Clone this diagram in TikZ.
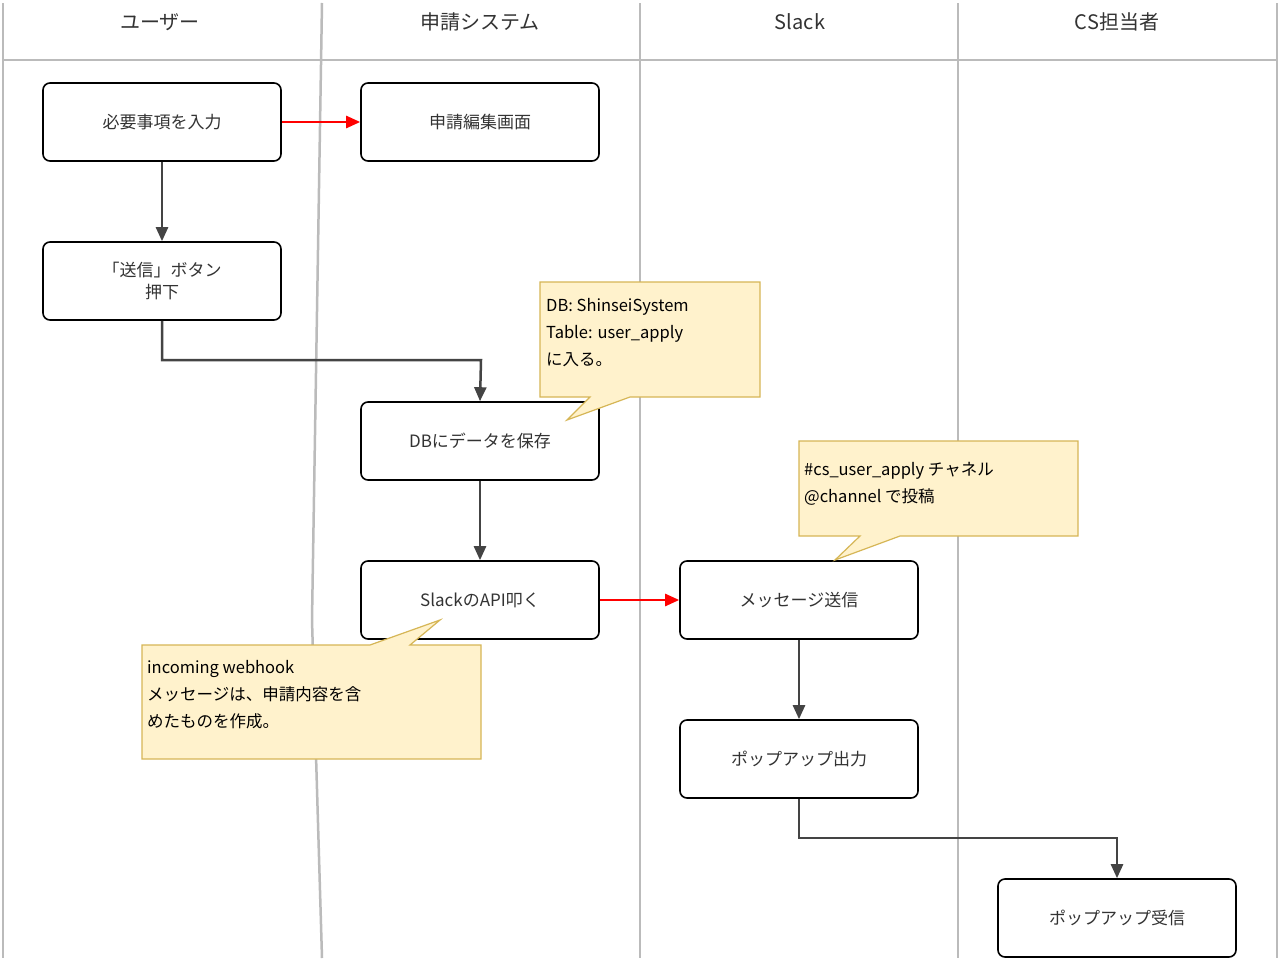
\documentclass[tikz,border=0pt]{standalone}
\usepackage{fontspec}
\setmainfont{Noto Sans CJK JP}
\usetikzlibrary{arrows.meta}
\definecolor{lane}{HTML}{BBBBBB}
\definecolor{notef}{HTML}{FFF2CC}
\definecolor{noted}{HTML}{D6B656}
\definecolor{txt}{HTML}{333333}
\definecolor{arr}{HTML}{444444}
\begin{document}
\begin{tikzpicture}[x=1pt,y=-1pt,
  box/.style={draw=black,line width=1.6pt,rounded corners=7pt,minimum width=238pt,minimum height=78pt,fill=white,text=txt,font=\fontsize{17}{22}\selectfont,align=center},
  lanel/.style={draw=lane,line width=2.5pt},
  hdr/.style={text=txt,font=\fontsize{20}{24}\selectfont},
  note/.style={fill=notef,draw=noted,line width=1.2pt},
  notet/.style={anchor=north west,align=left,font=\fontsize{16.5}{27}\selectfont,inner sep=0pt},
  a/.style={draw=arr,line width=2.5pt,-{Triangle[length=14pt,width=12pt]}},
  r/.style={draw=red,line width=2.5pt,-{Triangle[length=14pt,width=12pt]}}]
\useasboundingbox (0,0) rectangle (1280,961);
\fill[white] (0,0) rectangle (1280,961);
\draw[lanel] (3,3)--(3,958) (640,3)--(640,958) (958,3)--(958,958) (1277,3)--(1277,958);
\draw[lanel] (322,3)--(312,620)--(322,958);
\draw[lanel] (3,60)--(1277,60);
\node[hdr] (h1) at (160,22) {ユーザー};
\node[hdr] (h2) at (480,22) {申請システム};
\node[hdr] (h3) at (800,22) {Slack};
\node[hdr] (h4) at (1117,22) {CS担当者};
\node[box] (n1) at (162,122) {必要事項を入力};
\node[box] (n2) at (480,122) {申請編集画面};
\node[box] (n3) at (162,281) {「送信」ボタン\\押下};
\node[box] (n4) at (480,441) {DBにデータを保存};
\node[box] (n5) at (480,600) {SlackのAPI叩く};
\node[box] (n6) at (799,600) {メッセージ送信};
\node[box] (n7) at (799,759) {ポップアップ出力};
\node[box] (n8) at (1117,918) {ポップアップ受信};
\draw[r] (n1)--(n2);
\draw[r] (n5)--(n6);
\draw[a] (n1)--(n3);
\draw[a] (n3.south)|-(481,360)--(n4.north);
\draw[a] (n4)--(n5);
\draw[a] (n6)--(n7);
\draw[a] (n7.south)|-(1117,838)--(n8.north);
% notes
\draw[note] (540,282)--(760,282)--(760,397)--(630,397)--(567,420)--(590,397)--(540,397)--cycle;
\node[notet] (t1) at (546,298) {DB: ShinseiSystem\\Table: user\_apply\\に入る。};
\draw[note] (799,441)--(1078,441)--(1078,536)--(900,536)--(835,560)--(860,536)--(799,536)--cycle;
\node[notet] (t2) at (804,462) {\#cs\_user\_apply チャネル\\@channel で投稿};
\draw[note] (142,645)--(370,645)--(440,620)--(410,645)--(481,645)--(481,759)--(142,759)--cycle;
\node[notet] (t3) at (147,660) {incoming webhook\\メッセージは、申請内容を含\\めたものを作成。};
\end{tikzpicture}
\end{document}
